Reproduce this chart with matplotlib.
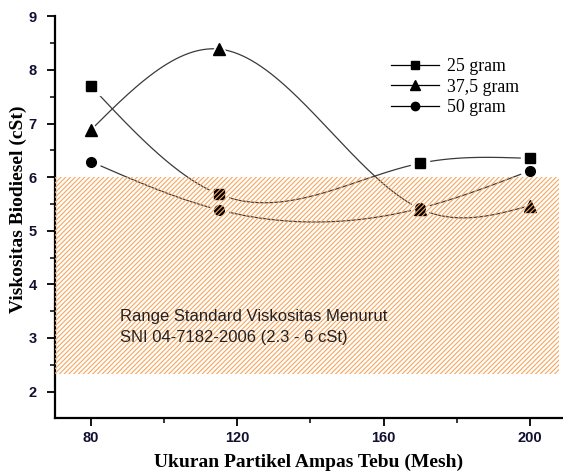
import numpy as np
import matplotlib
matplotlib.use("Agg")
import matplotlib.pyplot as plt
from matplotlib.patches import Rectangle

# ---- data ----
mesh = [80, 115, 170, 200]
visc_25 = [7.70, 5.68, 6.26, 6.35]
visc_375 = [6.88, 8.39, 5.41, 5.47]
visc_50 = [6.29, 5.39, 5.42, 6.12]
series_labels = ["25 gram", "37,5 gram", "50 gram"]
series_markers = ["s", "^", "o"]
std_low, std_high = 2.33, 6.0
xticks = [80, 120, 160, 200]
yticks = [2, 3, 4, 5, 6, 7, 8, 9]
annot = "Range Standard Viskositas Menurut\nSNI 04-7182-2006 (2.3 - 6 cSt)"


def natural_spline(x, y, xs):
    x = np.asarray(x, float); y = np.asarray(y, float)
    n = len(x); h = np.diff(x)
    A = np.zeros((n, n)); b = np.zeros(n)
    A[0, 0] = 1; A[-1, -1] = 1
    for i in range(1, n - 1):
        A[i, i - 1] = h[i - 1]
        A[i, i] = 2 * (h[i - 1] + h[i])
        A[i, i + 1] = h[i]
        b[i] = 3 * ((y[i + 1] - y[i]) / h[i] - (y[i] - y[i - 1]) / h[i - 1])
    c = np.linalg.solve(A, b)
    out = np.empty_like(xs)
    for k, xv in enumerate(xs):
        i = min(max(np.searchsorted(x, xv) - 1, 0), n - 2)
        dx = xv - x[i]
        bi = (y[i + 1] - y[i]) / h[i] - h[i] * (2 * c[i] + c[i + 1]) / 3
        di = (c[i + 1] - c[i]) / (3 * h[i])
        out[k] = y[i] + bi * dx + c[i] * dx ** 2 + di * dx ** 3
    return out


plt.rcParams['hatch.color'] = "#F8A65C"
plt.rcParams['hatch.linewidth'] = 0.8

fig = plt.figure(figsize=(5.63, 4.76), dpi=100)
ax = fig.add_axes([55 / 563, 1 - 418.3 / 476, 1 - 55 / 563, (418.3 - 16.4) / 476])

xs = np.linspace(mesh[0], mesh[-1], 400)
handles = []
for vals, lab, mk in zip([visc_25, visc_375, visc_50], series_labels, series_markers):
    ys = natural_spline(mesh, vals, xs)
    ax.plot(xs, ys, color="#3a3a3a", lw=0.9, zorder=2)
    ms = 8 if mk == "^" else 7
    ax.plot(mesh, vals, ls="none", marker=mk, ms=ms + 6, color="white", mec="white", zorder=3)
    ax.plot(mesh, vals, ls="none", marker=mk, ms=ms, color="black", mec="black", zorder=4)
    h, = ax.plot([], [], color="black", lw=0.9, marker=mk, ms=ms - 1)
    handles.append(h)

rect = Rectangle((70.2, std_low), 208 - 70.2, std_high - std_low, facecolor="none",
                 edgecolor="#F8A65C", hatch="///////", lw=0, zorder=5)
ax.add_patch(rect)

ax.text(88, 3.21, annot, fontsize=12, family="Liberation Sans", color="#222222",
        va="center", ha="left", linespacing=1.5, zorder=6)

ax.set_xlim(70.2, 209)
ax.set_ylim(1.5, 9)
ax.set_xticks(xticks)
ax.set_xticks([100, 140, 180], minor=True)
ax.set_yticks(yticks)
ax.set_yticks(np.arange(2.5, 9, 1.0), minor=True)
for s in ["top", "right"]:
    ax.spines[s].set_visible(False)
for s in ["left", "bottom"]:
    ax.spines[s].set_linewidth(1.6)
ax.tick_params(which="major", direction="out", length=6, width=1.3, pad=3.5)
ax.tick_params(which="minor", direction="out", length=3.5, width=1.1)
ax.tick_params(axis="y", which="major", pad=7)
for lbl in ax.get_xticklabels() + ax.get_yticklabels():
    lbl.set_fontfamily("Liberation Sans")
    lbl.set_fontweight("bold")
    lbl.set_fontsize(10.5)
    lbl.set_color("#101030")

ax.set_xlabel("Ukuran Partikel Ampas Tebu (Mesh)", family="Liberation Serif",
              fontweight="bold", fontsize=14, labelpad=6)
ax.set_ylabel("Viskositas Biodiesel (cSt)", family="Liberation Serif",
              fontweight="bold", fontsize=14)
ax.yaxis.set_label_coords(-0.055, 0.52)

fig.legend(handles, series_labels, loc="upper left", bbox_to_anchor=(391 / 563, 1 - 58 / 476),
           frameon=False, prop={"family": "Liberation Serif", "size": 12.8},
           handlelength=2.7, handletextpad=0.45, labelspacing=0.2, numpoints=1,
           borderaxespad=0, borderpad=0)

fig.savefig("out.png", dpi=100)
